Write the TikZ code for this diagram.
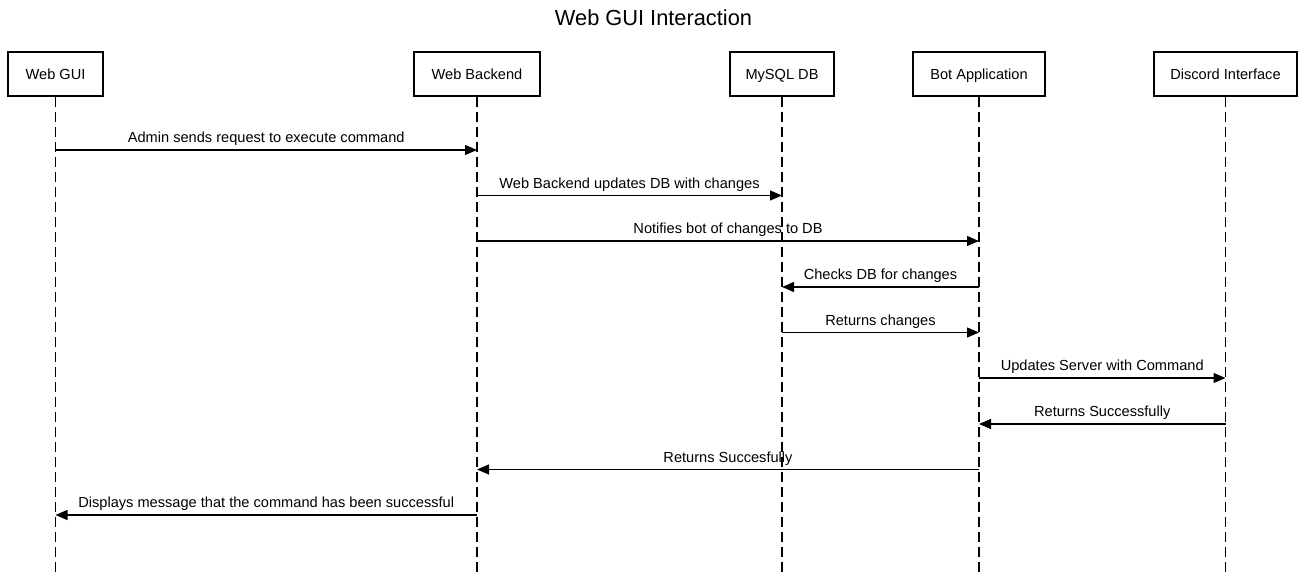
\documentclass[tikz,border=0pt]{standalone}
\usepackage{fontspec}
\setmainfont{Liberation Sans}
\usetikzlibrary{arrows.meta}

\begin{document}
\begin{tikzpicture}
[every node/.style={inner sep=0pt},
 actor/.style={rectangle, minimum height=44pt, text height=10.5pt, text depth=0pt, fill=white, line width=2pt, draw=black, font=\fontsize{14.6}{17}\selectfont},
 lifeline/.style={line width=1.2pt, dash pattern=on 10pt off 5pt, color=black},
 msg/.style={line width=1.2pt, -{Triangle[length=12pt, width=10pt]}, color=black},
 msglabel/.style={midway, above=3.5pt, font=\fontsize{14.6}{17}\selectfont}]
\useasboundingbox (0pt, 0pt) rectangle (1307pt, -572pt);
\node (title) [font=\fontsize{21.8}{25}\selectfont] at (653.5pt, -18pt) {Web GUI Interaction};
\node (gui) [actor, minimum width=95pt] at (55.5pt, -74pt) {Web GUI};
\node (backend) [actor, minimum width=126pt] at (477pt, -74pt) {Web Backend};
\node (db) [actor, minimum width=104pt] at (782pt, -74pt) {MySQL DB};
\node (bot) [actor, minimum width=132pt] at (979pt, -74pt) {Bot Application};
\node (discord) [actor, minimum width=143pt] at (1225.5pt, -74pt) {Discord Interface};
\coordinate (end) at (0pt, -572pt);
\foreach \n in {gui, backend, db, bot, discord}
  \draw [lifeline] (\n.south) -- (\n.south |- end);
\coordinate (m1) at (0pt, -150pt);
\coordinate (m2) at (0pt, -195.5pt);
\coordinate (m3) at (0pt, -241pt);
\coordinate (m4) at (0pt, -287pt);
\coordinate (m5) at (0pt, -332.5pt);
\coordinate (m6) at (0pt, -378pt);
\coordinate (m7) at (0pt, -424pt);
\coordinate (m8) at (0pt, -469.5pt);
\coordinate (m9) at (0pt, -515pt);
\draw [msg] (gui |- m1) -- (backend |- m1) node [msglabel] {Admin sends request to execute command};
\draw [msg] (backend |- m2) -- (db |- m2) node [msglabel] {Web Backend updates DB with changes};
\draw [msg] (backend |- m3) -- (bot |- m3) node [msglabel] {Notifies bot of changes to DB};
\draw [msg] (bot |- m4) -- (db |- m4) node [msglabel] {Checks DB for changes};
\draw [msg] (db |- m5) -- (bot |- m5) node [msglabel] {Returns changes};
\draw [msg] (bot |- m6) -- (discord |- m6) node [msglabel] {Updates Server with Command};
\draw [msg] (discord |- m7) -- (bot |- m7) node [msglabel] {Returns Successfully};
\draw [msg] (bot |- m8) -- (backend |- m8) node [msglabel] {Returns Succesfully};
\draw [msg] (backend |- m9) -- (gui |- m9) node [msglabel] {Displays message that the command has been successful};
\end{tikzpicture}
\end{document}
